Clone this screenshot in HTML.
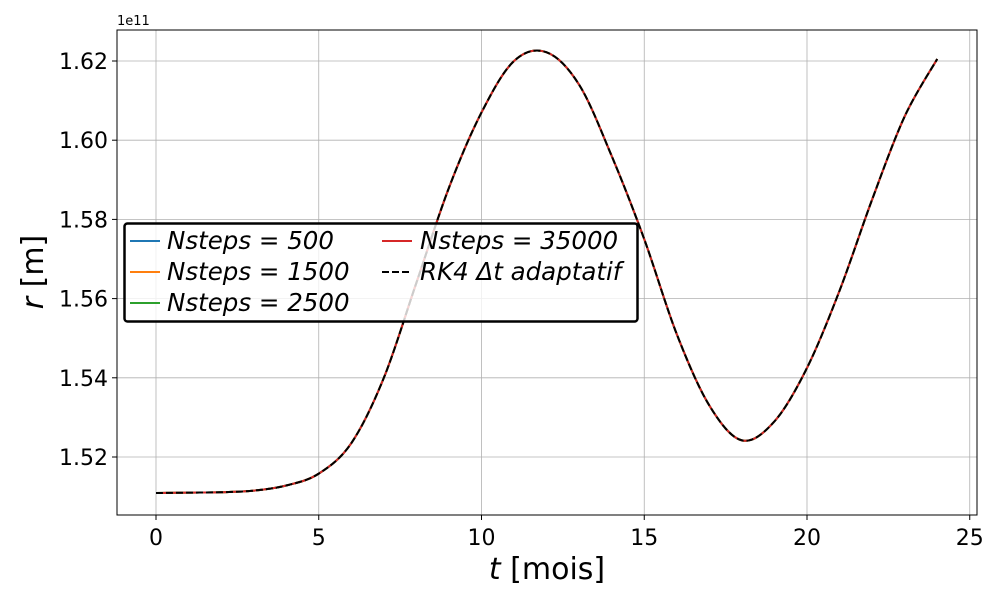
<!DOCTYPE html>
<html><head><meta charset="utf-8"><style>
body{margin:0;background:#fff;}
svg text{font-family:"DejaVu Sans","Liberation Sans",sans-serif;fill:#000;}
</style></head><body>
<svg id="chart" width="1000" height="600" xmlns="http://www.w3.org/2000/svg">
<g id="grid"></g>
<g id="series"></g>
<rect x="117" y="30" width="860" height="485" fill="none" stroke="#000" stroke-width="1"/>
<g id="ticks"></g>
<text x="117" y="25" font-size="13">1e11</text>
<text x="547" y="579" font-size="30" text-anchor="middle"><tspan font-style="italic">t</tspan> [mois]</text>
<text transform="translate(43,272) rotate(-90)" font-size="30" text-anchor="middle"><tspan font-style="italic">r</tspan> [m]</text>
<g>
<rect x="124.5" y="223.5" width="513" height="98" rx="3" fill="#fff" fill-opacity="0.8" stroke="#000" stroke-width="2.5"/>
<g font-size="24.5" font-style="italic">
<line x1="130" y1="241" x2="160" y2="241" stroke="#1f77b4" stroke-width="2"/>
<text x="167" y="249">Nsteps = 500</text>
<line x1="130" y1="272" x2="160" y2="272" stroke="#ff7f0e" stroke-width="2"/>
<text x="167" y="280">Nsteps = 1500</text>
<line x1="130" y1="303" x2="160" y2="303" stroke="#2ca02c" stroke-width="2"/>
<text x="167" y="311">Nsteps = 2500</text>
<line x1="382" y1="241" x2="412" y2="241" stroke="#d62728" stroke-width="2"/>
<text x="420" y="249">Nsteps = 35000</text>
<line x1="382" y1="272" x2="412" y2="272" stroke="#000" stroke-width="2" stroke-dasharray="7,3"/>
<text x="420" y="280">RK4 Δt adaptatif</text>
</g></g>
</svg>
<script>
const xTicks=[0,5,10,15,20,25];
const yTicks=[1.52,1.54,1.56,1.58,1.60,1.62];
const yTickLabels=["1.52","1.54","1.56","1.58","1.60","1.62"];
const tValues=[0,1,2,3,4,5,6,7,8,9,10,11,12,13,14,15,16,17,18,19,20,21,22,23,24];
const rValues=[1.5109,1.5110,1.5111,1.5115,1.5128,1.5158,1.5235,1.540,1.564,1.588,1.607,1.6200,1.6222,1.614,1.596,1.575,1.551,1.533,1.5242,1.529,1.5425,1.562,1.585,1.606,1.6205];
const seriesColors=["#1f77b4","#ff7f0e","#2ca02c","#d62728"];
const ns="http://www.w3.org/2000/svg";
const X=t=>156+t*32.55;
const Y=r=>457-(r-1.52)/0.02*79.2;
function mk(tag,attrs,parent){const e=document.createElementNS(ns,tag);for(const k in attrs)e.setAttribute(k,attrs[k]);parent.appendChild(e);return e;}
const grid=document.getElementById('grid'),ticks=document.getElementById('ticks'),ser=document.getElementById('series');
xTicks.forEach(v=>{const x=X(v);
 const g=mk('line',{x1:x,x2:x,y1:30,y2:515,stroke:'#b0b0b0','stroke-width':0.8},grid);
 
 
 mk('line',{x1:x,x2:x,y1:515,y2:520,stroke:'#000'},ticks);
 const t=mk('text',{x:x,y:545,'font-size':22,'text-anchor':'middle'},ticks);t.textContent=v;
 
 });
yTicks.forEach((v,i)=>{const y=Y(v);
 const g=mk('line',{x1:117,x2:977,y1:y,y2:y,stroke:'#b0b0b0','stroke-width':0.8},grid);
 
 
 mk('line',{x1:112,x2:117,y1:y,y2:y,stroke:'#000'},ticks);
 const t=mk('text',{x:108,y:y+8,'font-size':22,'text-anchor':'end'},ticks);t.textContent=yTickLabels[i];
 
 });
function pathD(){const p=tValues.map((t,i)=>[X(t),Y(rValues[i])]);let d=`M${p[0][0]},${p[0][1]}`;
 for(let i=0;i<p.length-1;i++){const p0=p[i-1]||p[i],p1=p[i],p2=p[i+1],p3=p[i+2]||p2;
  d+=` C${p1[0]+(p2[0]-p0[0])/6},${p1[1]+(p2[1]-p0[1])/6} ${p2[0]-(p3[0]-p1[0])/6},${p2[1]-(p3[1]-p1[1])/6} ${p2[0]},${p2[1]}`;}return d;}
const d=pathD();
seriesColors.forEach(c=>{const l=mk('path',{d:d,fill:'none',stroke:c,'stroke-width':2},ser);
 
 });
const rk=mk('path',{d:d,fill:'none',stroke:'#000','stroke-width':2,'stroke-dasharray':'7,3'},ser);


</script>
</body></html>
